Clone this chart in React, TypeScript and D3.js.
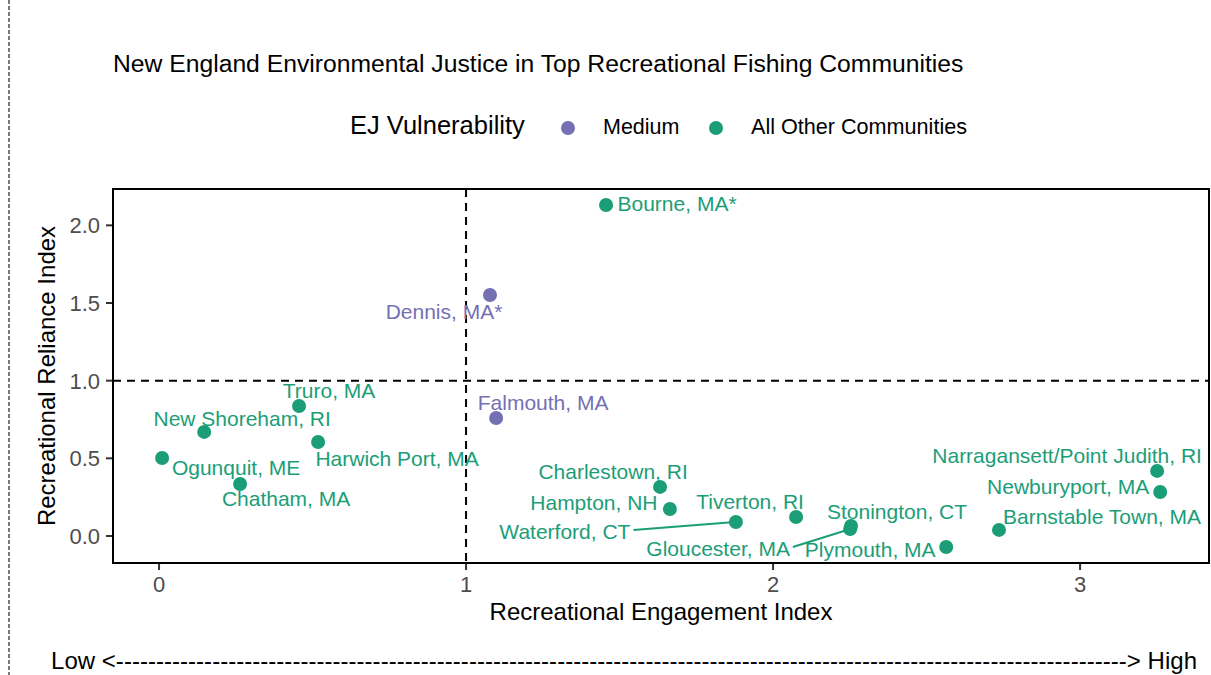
import React from "react";
import * as d3 from "d3";

const communities = [
  "Bourne, MA*",
  "Dennis, MA*",
  "Falmouth, MA",
  "Truro, MA",
  "New Shoreham, RI",
  "Harwich Port, MA",
  "Ogunquit, ME",
  "Chatham, MA",
  "Charlestown, RI",
  "Hampton, NH",
  "Waterford, CT",
  "Tiverton, RI",
  "Stonington, CT",
  "Gloucester, MA",
  "Plymouth, MA",
  "Barnstable Town, MA",
  "Narragansett/Point Judith, RI",
  "Newburyport, MA",
];
const engagement = [1.456, 1.078, 1.098, 0.456, 0.147, 0.518, 0.01, 0.264, 1.632, 1.664, 1.879, 2.075, 2.254, 2.251, 2.564, 2.736, 3.251, 3.261];
const reliance = [2.131, 1.552, 0.76, 0.837, 0.67, 0.605, 0.502, 0.335, 0.316, 0.174, 0.09, 0.122, 0.064, 0.045, -0.071, 0.039, 0.419, 0.283];
const vulnerability = [
  "All Other Communities",
  "Medium",
  "Medium",
  "All Other Communities",
  "All Other Communities",
  "All Other Communities",
  "All Other Communities",
  "All Other Communities",
  "All Other Communities",
  "All Other Communities",
  "All Other Communities",
  "All Other Communities",
  "All Other Communities",
  "All Other Communities",
  "All Other Communities",
  "All Other Communities",
  "All Other Communities",
  "All Other Communities",
];
const groups = ["Medium", "All Other Communities"];
const xTicks = [0, 1, 2, 3];
const yTicks = [0, 0.5, 1, 1.5, 2];
const thresholds = { x: 1, y: 1 };

// label placement (px from the point to label centre), like ggrepel left them
const labelNudge: [number, number][] = [
  [71, -1], [-46, 17], [47, -15], [30, -15], [38, -13], [79, 16], [74, 9], [46, 15],
  [-47, -15], [-76, -6], [-171, 10], [-46, -16], [46, -15], [-132, 20], [-76, 2],
  [103, -13], [-90, -15], [-92, -6],
];

const W = 1211;
const H = 675;
const panel = { left: 113, right: 1209, top: 189, bottom: 563 };
const font = "'Liberation Sans', Arial, Helvetica, sans-serif";
const labelSize = 21;

const color = d3.scaleOrdinal<string, string>().domain(groups).range(["#7570b3", "#1b9e77"]);

let ctx: CanvasRenderingContext2D | null = null;
function textWidth(s: string, size: number) {
  if (!ctx) ctx = document.createElement("canvas").getContext("2d");
  if (!ctx) return s.length * size * 0.55;
  ctx.font = `${size}px ${font}`;
  return ctx.measureText(s).width;
}

export default function App() {
  const x = d3.scaleLinear().domain([-0.15, 3.42]).range([panel.left, panel.right]);
  const y = d3.scaleLinear().domain([-0.174, 2.234]).range([panel.bottom, panel.top]);
  const cx = (panel.left + panel.right) / 2;
  const cy = (panel.top + panel.bottom) / 2;

  const pts = communities.map((name, i) => {
    const px = x(engagement[i]);
    const py = y(reliance[i]);
    const lx = px + labelNudge[i][0];
    const ly = py + labelNudge[i][1];
    const w = textWidth(name, labelSize);
    const bx0 = lx - w / 2 - 3, bx1 = lx + w / 2 + 3;
    // distance to the label box decides whether a leader segment is needed
    const d = Math.hypot(px - Math.max(bx0, Math.min(px, bx1)), py - Math.max(ly - 9, Math.min(py, ly + 9)));
    const nx = Math.max(bx0, Math.min(px, bx1));
    const ny = Math.max(ly - 2, Math.min(py, ly + 2));
    return { name, px, py, lx, ly, nx, ny, d, col: color(vulnerability[i]) };
  });

  const dashes = "-".repeat(126);

  return (
    <svg width={W} height={H} style={{ position: "absolute", left: 0, top: 0, background: "#fff" }} fontFamily={font}>
      <line x1={9} x2={9} y1={0} y2={H} stroke="#333" strokeWidth={1.3} strokeDasharray="4,2" />

      <text x={113} y={72} fontSize={24.7} fill="#000">
        New England Environmental Justice in Top Recreational Fishing Communities
      </text>

      <g>
        <text x={350} y={134} fontSize={25.5} fill="#000">EJ Vulnerability</text>
        <circle cx={568} cy={128} r={7} fill={color("Medium")} />
        <text x={603} y={134} fontSize={21.5} fill="#000">Medium</text>
        <circle cx={716} cy={128} r={7} fill={color("All Other Communities")} />
        <text x={751} y={134} fontSize={21.6} fill="#000">All Other Communities</text>
      </g>

      <line x1={x(thresholds.x)} x2={x(thresholds.x)} y1={panel.top} y2={panel.bottom} stroke="#000" strokeWidth={2} strokeDasharray="8,6" />
      <line x1={panel.left} x2={panel.right} y1={y(thresholds.y)} y2={y(thresholds.y)} stroke="#000" strokeWidth={2} strokeDasharray="8,6" />

      {pts.filter((p) => p.d > 20).map((p) => {
        const ang = Math.atan2(p.ny - p.py, p.nx - p.px);
        return (
          <line key={"s" + p.name} x1={p.nx} y1={p.ny} x2={p.px + Math.cos(ang) * 4} y2={p.py + Math.sin(ang) * 4} stroke={p.col} strokeWidth={2} />
        );
      })}

      {pts.map((p) => (
        <circle key={"c" + p.name} cx={p.px} cy={p.py} r={7} fill={p.col} />
      ))}
      {pts.map((p) => (
        <text key={"t" + p.name} x={p.lx} y={p.ly + 7.5} fontSize={labelSize} fill={p.col} textAnchor="middle">
          {p.name}
        </text>
      ))}

      <rect x={panel.left} y={panel.top} width={panel.right - panel.left} height={panel.bottom - panel.top} fill="none" stroke="#000" strokeWidth={2} />

      {xTicks.map((t) => (
        <g key={"x" + t}>
          <line x1={x(t)} x2={x(t)} y1={panel.bottom + 1} y2={panel.bottom + 7} stroke="#333" strokeWidth={2} />
          <text x={x(t)} y={592} fontSize={22} fill="#4d4d4d" textAnchor="middle">{d3.format("d")(t)}</text>
        </g>
      ))}
      {yTicks.map((t) => (
        <g key={"y" + t}>
          <line x1={panel.left - 7} x2={panel.left - 1} y1={y(t)} y2={y(t)} stroke="#333" strokeWidth={2} />
          <text x={100} y={y(t) + 8} fontSize={22} fill="#4d4d4d" textAnchor="end">{d3.format(".1f")(t)}</text>
        </g>
      ))}

      <text x={cx} y={620} fontSize={24} fill="#000" textAnchor="middle">Recreational Engagement Index</text>
      <text transform={`translate(55,${cy}) rotate(-90)`} fontSize={24} fill="#000" textAnchor="middle">
        Recreational Reliance Index
      </text>

      <text x={51} y={669} fontSize={24} fill="#000" textLength={1146} lengthAdjust="spacing">
        {`Low <${dashes}> High`}
      </text>
    </svg>
  );
}
